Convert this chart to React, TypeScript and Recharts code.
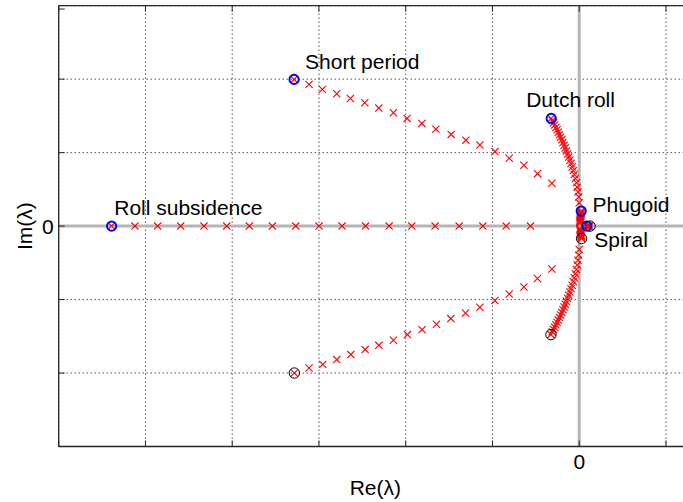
import { ScatterChart, Scatter, XAxis, YAxis, CartesianGrid, ReferenceLine } from "recharts";

type Pt = { re: number; im: number };
type Note = { re: number; im: number; text: string };

const xTicks = [-6, -5, -4, -3, -2, -1, 0, 1];
const yTicks = [-3, -2, -1, 0, 1, 2, 3];

const rollSubsidence: Pt[] = [
  { re: -5.39, im: 0 }, { re: -5.121, im: 0 }, { re: -4.859, im: 0 }, { re: -4.594, im: 0 },
  { re: -4.325, im: 0 }, { re: -4.063, im: 0 }, { re: -3.803, im: 0 }, { re: -3.537, im: 0 },
  { re: -3.268, im: 0 }, { re: -2.999, im: 0 }, { re: -2.734, im: 0 }, { re: -2.463, im: 0 },
  { re: -2.191, im: 0 }, { re: -1.93, im: 0 }, { re: -1.661, im: 0 }, { re: -1.384, im: 0 },
  { re: -1.111, im: 0 }, { re: -0.842, im: 0 }, { re: -0.562, im: 0 },
];

const shortPeriodUpper: Pt[] = [
  { re: -3.287, im: 1.997 }, { re: -3.114, im: 1.929 }, { re: -2.961, im: 1.861 }, { re: -2.795, im: 1.801 },
  { re: -2.638, im: 1.738 }, { re: -2.472, im: 1.678 }, { re: -2.31, im: 1.606 }, { re: -2.142, im: 1.542 },
  { re: -1.984, im: 1.466 }, { re: -1.814, im: 1.398 }, { re: -1.653, im: 1.32 }, { re: -1.476, im: 1.248 },
  { re: -1.307, im: 1.17 }, { re: -1.145, im: 1.105 }, { re: -0.972, im: 1.014 }, { re: -0.807, im: 0.924 },
  { re: -0.638, im: 0.828 }, { re: -0.481, im: 0.714 }, { re: -0.315, im: 0.583 },
];

const shortPeriodLower: Pt[] = [
  { re: -3.284, im: -2.0 }, { re: -3.114, im: -1.932 }, { re: -2.956, im: -1.882 }, { re: -2.795, im: -1.817 },
  { re: -2.633, im: -1.749 }, { re: -2.468, im: -1.681 }, { re: -2.31, im: -1.623 }, { re: -2.142, im: -1.554 },
  { re: -1.98, im: -1.477 }, { re: -1.811, im: -1.409 }, { re: -1.646, im: -1.337 }, { re: -1.48, im: -1.259 },
  { re: -1.311, im: -1.183 }, { re: -1.145, im: -1.105 }, { re: -0.972, im: -1.014 }, { re: -0.807, im: -0.924 },
  { re: -0.638, im: -0.828 }, { re: -0.481, im: -0.714 }, { re: -0.315, im: -0.583 },
];

const dutchRollUpper: Pt[] = [
  { re: -0.323, im: 1.466 }, { re: -0.31, im: 1.436 }, { re: -0.296, im: 1.406 }, { re: -0.283, im: 1.375 },
  { re: -0.269, im: 1.343 }, { re: -0.255, im: 1.311 }, { re: -0.242, im: 1.278 }, { re: -0.228, im: 1.244 },
  { re: -0.215, im: 1.21 }, { re: -0.201, im: 1.174 }, { re: -0.187, im: 1.138 }, { re: -0.174, im: 1.101 },
  { re: -0.161, im: 1.063 }, { re: -0.148, im: 1.023 }, { re: -0.135, im: 0.982 }, { re: -0.121, im: 0.94 },
  { re: -0.107, im: 0.896 }, { re: -0.095, im: 0.851 }, { re: -0.081, im: 0.804 }, { re: -0.069, im: 0.755 },
  { re: -0.057, im: 0.703 }, { re: -0.045, im: 0.649 }, { re: -0.032, im: 0.591 }, { re: -0.023, im: 0.53 },
  { re: -0.014, im: 0.465 }, { re: -0.006, im: 0.395 }, { re: 0.0, im: 0.319 },
];

const dutchRollLower: Pt[] = [
  { re: -0.326, im: -1.477 }, { re: -0.311, im: -1.44 }, { re: -0.297, im: -1.408 }, { re: -0.283, im: -1.376 },
  { re: -0.269, im: -1.344 }, { re: -0.255, im: -1.312 }, { re: -0.242, im: -1.279 }, { re: -0.228, im: -1.245 },
  { re: -0.215, im: -1.21 }, { re: -0.201, im: -1.175 }, { re: -0.187, im: -1.138 }, { re: -0.174, im: -1.101 },
  { re: -0.161, im: -1.063 }, { re: -0.148, im: -1.023 }, { re: -0.135, im: -0.982 }, { re: -0.121, im: -0.94 },
  { re: -0.107, im: -0.896 }, { re: -0.095, im: -0.851 }, { re: -0.081, im: -0.804 }, { re: -0.069, im: -0.755 },
  { re: -0.057, im: -0.703 }, { re: -0.045, im: -0.649 }, { re: -0.032, im: -0.591 }, { re: -0.023, im: -0.53 },
  { re: -0.014, im: -0.465 }, { re: -0.006, im: -0.395 }, { re: 0.0, im: -0.319 },
];

const phugoidUpper: Pt[] = [
  { re: 0.023, im: 0.205 }, { re: 0.022, im: 0.19 }, { re: 0.021, im: 0.175 }, { re: 0.02, im: 0.16 },
  { re: 0.018, im: 0.145 }, { re: 0.016, im: 0.13 }, { re: 0.014, im: 0.115 }, { re: 0.012, im: 0.1 },
  { re: 0.01, im: 0.085 }, { re: 0.008, im: 0.07 }, { re: 0.006, im: 0.055 }, { re: 0.005, im: 0.04 },
];

const phugoidLower: Pt[] = [
  { re: 0.027, im: -0.17 }, { re: 0.025, im: -0.155 }, { re: 0.023, im: -0.14 }, { re: 0.021, im: -0.125 },
  { re: 0.019, im: -0.11 }, { re: 0.016, im: -0.095 }, { re: 0.014, im: -0.08 }, { re: 0.012, im: -0.065 },
  { re: 0.01, im: -0.05 }, { re: 0.008, im: -0.035 },
];

const spiral: Pt[] = [
  { re: 0.088, im: 0 }, { re: 0.1, im: 0 }, { re: 0.112, im: 0 }, { re: 0.125, im: 0 },
];

const startPoles: Pt[] = [rollSubsidence[0], shortPeriodUpper[0], dutchRollUpper[0], phugoidUpper[0], spiral[0]];
const endPoles: Pt[] = [shortPeriodLower[0], dutchRollLower[0], phugoidLower[0], spiral[spiral.length - 1]];

const notes: Note[] = [
  { re: -3.16, im: 2.139, text: "Short period" },
  { re: -0.611, im: 1.625, text: "Dutch roll" },
  { re: -5.36, im: 0.15, text: "Roll subsidence" },
  { re: 0.153, im: 0.195, text: "Phugoid" },
  { re: 0.173, im: -0.29, text: "Spiral" },
];

const FONT = "'Liberation Sans', Arial, Helvetica, sans-serif";
const AXIS = "#262626";

const Cross = (p: any) => {
  const s = 3.6;
  return (
    <path
      d={`M${p.cx - s},${p.cy - s}L${p.cx + s},${p.cy + s}M${p.cx - s},${p.cy + s}L${p.cx + s},${p.cy - s}`}
      stroke="#ff0000"
      strokeWidth={1.1}
      fill="none"
    />
  );
};

const BlueRing = (p: any) => <circle cx={p.cx} cy={p.cy} r={4.6} fill="none" stroke="#0000ff" strokeWidth={2} />;
const BlackRing = (p: any) => <circle cx={p.cx} cy={p.cy} r={5.2} fill="none" stroke="#000" strokeWidth={1} />;

const NoteText = (p: any) => (
  <text x={p.cx} y={p.cy} fontFamily={FONT} fontSize={21} fill="#000">
    {p.payload.text}
  </text>
);

const BottomTick = (p: any) => (
  <g>
    <line x1={p.x} y1={p.y} x2={p.x} y2={p.y - 6} stroke={AXIS} />
    {p.payload.value === 0 && (
      <text x={p.x} y={p.y + 22} textAnchor="middle" fontFamily={FONT} fontSize={21} fill="#000">
        0
      </text>
    )}
  </g>
);

const TopTick = (p: any) => <line x1={p.x} y1={p.y} x2={p.x} y2={p.y + 6} stroke={AXIS} />;

const LeftTick = (p: any) => (
  <g>
    <line x1={p.x} y1={p.y} x2={p.x + 6} y2={p.y} stroke={AXIS} />
    {p.payload.value === 0 && (
      <text x={p.x - 5} y={p.y + 8} textAnchor="end" fontFamily={FONT} fontSize={21} fill="#000">
        0
      </text>
    )}
  </g>
);

const XLabel = (p: any) => {
  const vb = p.viewBox;
  return (
    <text x={vb.x + vb.width / 2} y={vb.y + 48} textAnchor="middle" fontFamily={FONT} fontSize={21} fill="#000">
      Re(λ)
    </text>
  );
};

const YLabel = (p: any) => {
  const vb = p.viewBox;
  const cx = vb.x + 32;
  const cy = vb.y + vb.height / 2;
  return (
    <text x={cx} y={cy} transform={`rotate(-90 ${cx} ${cy})`} textAnchor="middle" fontFamily={FONT} fontSize={21} fill="#000">
      Im(λ)
    </text>
  );
};

export default function App() {
  return (
    <div style={{ position: "absolute", left: 0, top: 0, width: 683, height: 502, overflow: "hidden", background: "#fff" }}>
      <ScatterChart width={692} height={502} margin={{ top: 0, right: 0, bottom: 0, left: 0 }}>
        <CartesianGrid stroke="#000" strokeDasharray="1 3" />
        <XAxis
          type="number"
          dataKey="re"
          domain={[-6, 1.3]}
          ticks={xTicks}
          allowDataOverflow
          height={55.5}
          tickSize={0}
          tickMargin={0}
          tickLine={false}
          axisLine={{ stroke: AXIS, strokeWidth: 1.3 }}
          tick={BottomTick}
          label={XLabel}
        />
        <XAxis
          xAxisId="top"
          orientation="top"
          type="number"
          dataKey="re"
          domain={[-6, 1.3]}
          ticks={xTicks}
          allowDataOverflow
          height={5.7}
          tickSize={0}
          tickMargin={0}
          tickLine={false}
          axisLine={{ stroke: AXIS, strokeWidth: 1.3 }}
          tick={TopTick}
        />
        <YAxis
          type="number"
          dataKey="im"
          domain={[-3, 3]}
          ticks={yTicks}
          allowDataOverflow
          width={58.7}
          tickSize={0}
          tickMargin={0}
          tickLine={false}
          axisLine={{ stroke: AXIS, strokeWidth: 1.3 }}
          tick={LeftTick}
          label={YLabel}
        />
        <ReferenceLine y={0} stroke="#b5b5b5" strokeWidth={3} />
        <ReferenceLine x={0} stroke="#b5b5b5" strokeWidth={3} />
        <Scatter data={rollSubsidence} shape={Cross} isAnimationActive={false} />
        <Scatter data={shortPeriodUpper} shape={Cross} isAnimationActive={false} />
        <Scatter data={shortPeriodLower} shape={Cross} isAnimationActive={false} />
        <Scatter data={dutchRollUpper} shape={Cross} isAnimationActive={false} />
        <Scatter data={dutchRollLower} shape={Cross} isAnimationActive={false} />
        <Scatter data={phugoidUpper} shape={Cross} isAnimationActive={false} />
        <Scatter data={phugoidLower} shape={Cross} isAnimationActive={false} />
        <Scatter data={spiral} shape={Cross} isAnimationActive={false} />
        <Scatter data={startPoles} shape={BlueRing} isAnimationActive={false} />
        <Scatter data={endPoles} shape={BlackRing} isAnimationActive={false} />
        <Scatter data={notes} shape={NoteText} isAnimationActive={false} />
      </ScatterChart>
    </div>
  );
}
